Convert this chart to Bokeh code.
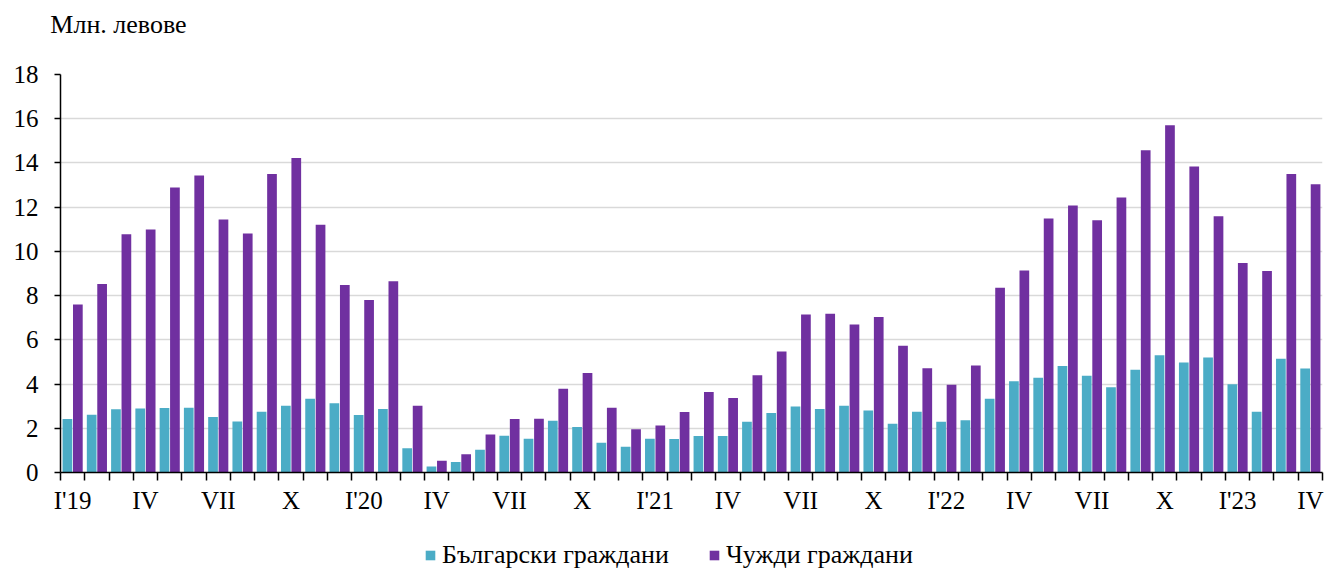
import numpy as np
from bokeh.plotting import figure
from bokeh.layouts import column
from bokeh.models import (ColumnDataSource, FixedTicker, Legend, LegendItem, Range1d, LinearAxis)
from bokeh.embed import file_html
from bokeh.resources import INLINE

# 52 months, Jan 2019 - Apr 2023
bulgarian = [2.42, 2.61, 2.86, 2.90, 2.92, 2.93, 2.51, 2.31, 2.75, 3.02, 3.34, 3.13,
             2.60, 2.87, 1.10, 0.27, 0.48, 1.03, 1.66, 1.53, 2.34, 2.06, 1.35, 1.16,
             1.53, 1.51, 1.65, 1.65, 2.30, 2.69, 2.98, 2.87, 3.02, 2.80, 2.21, 2.75,
             2.30, 2.36, 3.34, 4.13, 4.28, 4.82, 4.37, 3.85, 4.65, 5.30, 4.97, 5.20,
             3.99, 2.75, 5.15, 4.70]
foreign = [7.60, 8.52, 10.78, 10.99, 12.89, 13.43, 11.44, 10.81, 13.50, 14.22, 11.20, 8.48,
           7.80, 8.65, 3.02, 0.53, 0.83, 1.72, 2.42, 2.43, 3.79, 4.50, 2.93, 1.96,
           2.12, 2.74, 3.64, 3.37, 4.40, 5.47, 7.15, 7.18, 6.69, 7.03, 5.73, 4.72,
           3.97, 4.84, 8.35, 9.14, 11.49, 12.07, 11.41, 12.44, 14.57, 15.70, 13.84, 11.59,
           9.48, 9.11, 13.50, 13.04]
month_labels = ["I'19", "IV", "VII", "X", "I'20", "IV", "VII", "X", "I'21", "IV", "VII", "X",
                "I'22", "IV", "VII", "X", "I'23", "IV"]
series_names = ["Български граждани", "Чужди граждани"]
y_ticks = list(range(0, 19, 2))
y_title = "Млн. левове"

n = len(bulgarian)
idx = np.arange(n)
FONT = "Liberation Serif"
FS = "25px"
C_BG = "#4BACC6"
C_FR = "#7030A0"

W, BL, BR = 1325, 60, 3
src = ColumnDataSource(dict(x_bg=idx + 0.5 - 0.215, x_fr=idx + 0.5 + 0.215,
                            bg=bulgarian, fr=foreign))

p = figure(width=W, height=520, output_backend="svg", toolbar_location=None,
           x_range=Range1d(0, n), y_range=Range1d(0, 18),
           min_border_left=BL, min_border_right=BR, min_border_top=74, min_border_bottom=48)
p.outline_line_color = None

p.vbar(x="x_bg", top="bg", width=0.4, source=src, fill_color=C_BG, line_color=None)
p.vbar(x="x_fr", top="fr", width=0.4, source=src, fill_color=C_FR, line_color=None)

# bottom x axis: labels centred on months, ticks between months
label_pos = [i + 0.5 for i in range(0, n, 3)]
xa = p.below[0]
xa.ticker = FixedTicker(ticks=label_pos, minor_ticks=list(range(0, n + 1)))
xa.major_label_overrides = {pos: lab for pos, lab in zip(label_pos, month_labels)}
xa.major_tick_out = 0
xa.major_tick_in = 0
xa.minor_tick_out = 8
xa.minor_tick_in = 0
xa.minor_tick_line_color = "black"
xa.minor_tick_line_width = 1.5
xa.axis_line_color = "black"
xa.axis_line_width = 1.5
xa.major_label_standoff = 6
xa.major_label_text_font = FONT
xa.major_label_text_font_size = FS
xa.major_label_text_color = "black"

# unit caption placed as a single-label axis above the frame (text centre at 118 px)
cap_x = (118 - BL) / (W - BL - BR) * n
cap_axis = LinearAxis(ticker=FixedTicker(ticks=[cap_x], minor_ticks=[]),
                      major_label_overrides={cap_x: y_title},
                      axis_line_color=None, major_tick_line_color=None,
                      minor_tick_line_color=None, major_tick_out=0, major_tick_in=0,
                      minor_tick_out=0, minor_tick_in=0,
                      major_label_standoff=36, major_label_text_font=FONT,
                      major_label_text_font_size="26px", major_label_text_color="black")
p.add_layout(cap_axis, "above")

# y axis
ya = p.left[0]
ya.ticker = FixedTicker(ticks=y_ticks)
ya.major_tick_out = 6
ya.major_tick_in = 0
ya.minor_tick_line_color = None
ya.major_tick_line_color = "black"
ya.major_tick_line_width = 1.5
ya.axis_line_color = "black"
ya.axis_line_width = 1.5
ya.major_label_standoff = 16
ya.major_label_text_font = FONT
ya.major_label_text_font_size = FS
ya.major_label_text_color = "black"

p.xgrid.grid_line_color = None
p.ygrid.grid_line_color = "#d9d9d9"
p.ygrid.grid_line_width = 1.5

# legend strip below the chart
lf = figure(width=W, height=52, output_backend="svg", toolbar_location=None,
            x_range=Range1d(0, 10), y_range=Range1d(0, 10),
            x_axis_location=None, y_axis_location=None,
            min_border_left=0, min_border_right=0, min_border_top=0, min_border_bottom=0)
lf.grid.visible = False
lf.outline_line_color = None
d1 = lf.vbar(x=[-100], top=[-50], bottom=[-60], width=1, fill_color=C_BG, line_color=None)
d2 = lf.vbar(x=[-100], top=[-50], bottom=[-60], width=1, fill_color=C_FR, line_color=None)
legend = Legend(items=[LegendItem(label=series_names[0], renderers=[d1]),
                       LegendItem(label=series_names[1], renderers=[d2])],
                orientation="horizontal", location=(364, 2),
                label_text_font=FONT, label_text_font_size="26px", label_text_color="black",
                glyph_width=12, glyph_height=12, label_standoff=6, spacing=39,
                border_line_color=None, background_fill_alpha=0,
                padding=0, margin=0)
lf.add_layout(legend, "center")

layout = column(p, lf, spacing=0)
open("out.html", "w").write(file_html(layout, INLINE))
